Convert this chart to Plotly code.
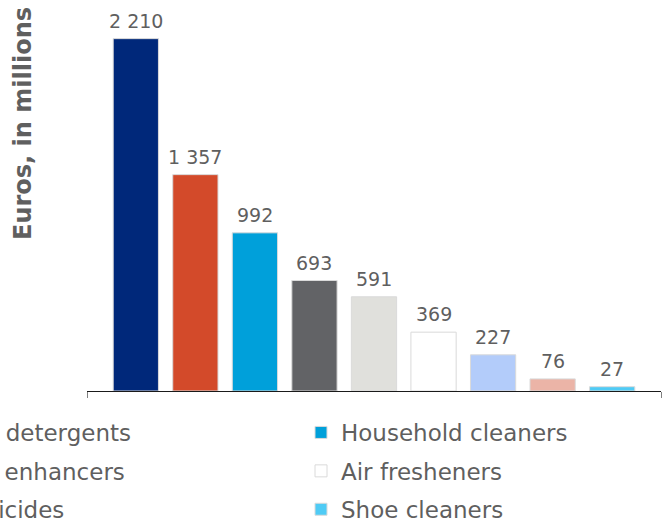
import plotly.graph_objects as go

# Market size by product category (euros, in millions)
categories = [
    "Powder detergents", "Liquid detergents", "Household cleaners",
    "Toilet cleaners", "Fabric enhancers", "Air fresheners",
    "Bleach", "Insecticides", "Shoe cleaners",
]
values = [2210, 1357, 992, 693, 591, 369, 227, 76, 27]
colors = [
    "#00287A", "#D34A2A", "#00A0DA",
    "#626366", "#E0E0DC", "#FFFFFF",
    "#B3CCFA", "#EBB4A7", "#4FCBF5",
]

W, H = 662, 524
L, R, T, B = 87, 1, 5, 133
PW, PH = W - L - R, H - T - B

TEXT = "#5F5F5F"
FONT = "DejaVu Sans"


def paper_x(px):
    return (px - L) / PW


def paper_y(py):
    return 1 - (py - T) / PH


fig = go.Figure()
legend_ids = ["legend", "legend2", "legend3"]
for i, (name, val, col) in enumerate(zip(categories, values, colors)):
    fig.add_trace(go.Bar(
        x=[i], y=[val], name=name, width=0.76,
        marker=dict(color=col, line=dict(color="#DADADA", width=1)),
        legend=legend_ids[i % 3], legendgroup=name,
        hoverinfo="skip",
    ))
    fig.add_annotation(
        x=i, y=val, xref="x", yref="y",
        text=f"{val:,}".replace(",", " "),
        showarrow=False, yanchor="bottom", yshift=5,
        font=dict(family=FONT, size=19, color=TEXT),
    )

# rotated y-axis title
fig.add_annotation(
    x=paper_x(23), y=paper_y(124), xref="paper", yref="paper",
    text="<b>Euros, in millions</b>", textangle=-90, showarrow=False,
    xanchor="center", yanchor="middle",
    font=dict(family=FONT, size=24, color=TEXT),
)

# three legend columns, three entries each (row-wise order)
legend_style = dict(
    orientation="v", xanchor="left", yanchor="top", y=paper_y(411),
    font=dict(family=FONT, size=23, color=TEXT),
    bgcolor="rgba(0,0,0,0)", borderwidth=0,
    traceorder="grouped", tracegroupgap=5.5,
)
x_range = [-0.82, 8.82]

fig.update_layout(
    width=W, height=H,
    margin=dict(l=L, r=R, t=T, b=B, autoexpand=False),
    paper_bgcolor="white", plot_bgcolor="white",
    barmode="overlay", showlegend=True,
    legend=dict(x=paper_x(-522), **legend_style),
    legend2=dict(x=paper_x(-111), **legend_style),
    legend3=dict(x=paper_x(301), **legend_style),
    xaxis=dict(
        range=x_range, showgrid=False, zeroline=False,
        showline=True, linecolor="#1A1A1A", linewidth=1,
        tickvals=x_range, ticks="outside", ticklen=6, tickcolor="#808080",
        showticklabels=False,
    ),
    yaxis=dict(
        range=[0, 2421], showgrid=False, zeroline=False,
        showline=False, showticklabels=False, ticks="",
    ),
)

fig.write_html("out.html")
